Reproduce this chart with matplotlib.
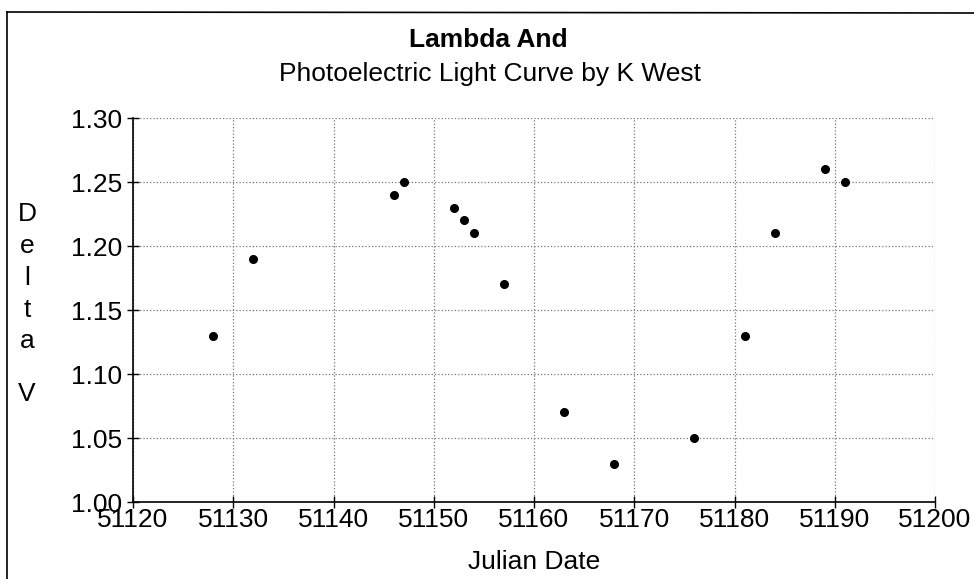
import matplotlib
matplotlib.use('Agg')
import matplotlib.pyplot as plt
from matplotlib.lines import Line2D

# Data
julian_date = [51128, 51132, 51146, 51147, 51152, 51153, 51154, 51157,
               51163, 51168, 51176, 51181, 51184, 51189, 51191]
delta_v = [1.13, 1.19, 1.24, 1.25, 1.23, 1.22, 1.21, 1.17,
           1.07, 1.03, 1.05, 1.13, 1.21, 1.26, 1.25]

x_ticks = [51120, 51130, 51140, 51150, 51160, 51170, 51180, 51190, 51200]
y_ticks = [1.00, 1.05, 1.10, 1.15, 1.20, 1.25, 1.30]

W, H = 974, 579
plt.rcParams['font.family'] = ['Liberation Sans', 'DejaVu Sans']

fig = plt.figure(figsize=(W / 100, H / 100), dpi=100)
ax = fig.add_axes([133 / W, 1 - 502 / H, (935 - 133) / W, (502 - 118) / H])

ax.plot(julian_date, delta_v, 'o', color='black', markersize=5.5, linestyle='none',
        zorder=3, clip_on=False)

ax.set_xlim(51120, 51200)
ax.set_ylim(1.00, 1.30)
ax.set_xticks(x_ticks)
ax.set_yticks(y_ticks)
ax.set_xticklabels([str(v) for v in x_ticks])
ax.set_yticklabels(['%.2f' % v for v in y_ticks])

# dotted grid, including the top and right edges
ax.grid(True, linestyle=':', color='#777777', linewidth=0.9)
ax.spines['top'].set_visible(False)
ax.spines['right'].set_visible(False)
ax.spines['left'].set_linewidth(1.2)
ax.spines['bottom'].set_linewidth(1.2)
ax.tick_params(direction='inout', length=8, width=1, colors='black')
ax.tick_params(axis='y', labelsize=19, pad=4)
ax.tick_params(axis='x', labelsize=19, pad=0)

ax.set_xlabel('Julian Date', fontsize=19, labelpad=13)

# titles
fig.text(488 / W, 1 - 47 / H, 'Lambda And', ha='center', va='baseline',
         fontsize=19, fontweight='bold')
fig.text(490 / W, 1 - 81 / H, 'Photoelectric Light Curve by K West', ha='center',
         va='baseline', fontsize=19)

# stacked y label (blank line before the V)
for letter, ypix in [('D', 214), ('e', 246), ('l', 278), ('t', 310), ('a', 341), ('V', 394)]:
    fig.text(27 / W, 1 - ypix / H, letter, ha='center', va='center', fontsize=19)

# frame lines around the chart
fig.add_artist(Line2D([7 / W, 7 / W], [0.0, 1 - 12 / H], color='black', linewidth=1.2,
                      transform=fig.transFigure))
fig.add_artist(Line2D([7 / W, 1.0], [1 - 12 / H, 1 - 13 / H], color='black', linewidth=1.2,
                      transform=fig.transFigure))

fig.savefig('out.png', dpi=100, facecolor='white')
